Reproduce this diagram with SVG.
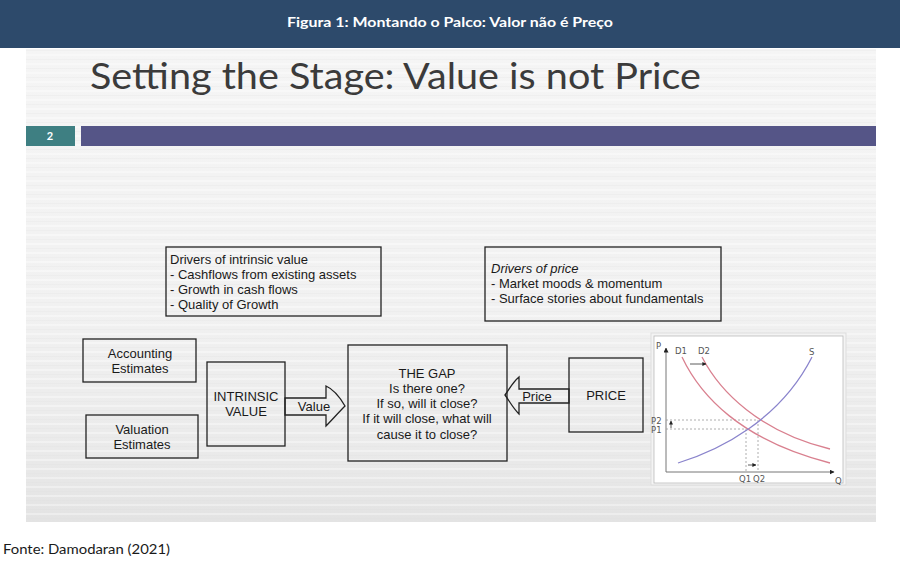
<svg xmlns="http://www.w3.org/2000/svg" width="900" height="562" viewBox="0 0 900 562">
<defs>
<linearGradient id="slidebg" x1="0" y1="0" x2="0" y2="1">
<stop offset="0" stop-color="#f5f5f5"/>
<stop offset="0.55" stop-color="#f1f1f1"/>
<stop offset="0.85" stop-color="#eaeaea"/>
<stop offset="1" stop-color="#e3e3e3"/>
</linearGradient>
<pattern id="streaks" x="0" y="0" width="900" height="9" patternUnits="userSpaceOnUse">
<rect x="0" y="0" width="900" height="2" fill="#ffffff" opacity="0.35"/>
<rect x="0" y="5" width="900" height="1" fill="#dcdcdc" opacity="0.2"/>
</pattern>
<marker id="sm" viewBox="0 0 10 10" refX="9" refY="5" markerWidth="5" markerHeight="5" orient="auto">
<path d="M0,0 L10,5 L0,10 z" fill="#222"/>
</marker>
<style>
.box{fill:none;stroke:#222;stroke-width:1.3}
.t{font-family:"Liberation Sans",Arial,sans-serif;font-size:13px;fill:#1a1a1a}
.c{text-anchor:middle}
.ch{font-family:"DejaVu Sans",sans-serif;font-size:8.5px;fill:#555}
.dash{stroke:#999;stroke-width:0.8;stroke-dasharray:2,2;fill:none}
.d{fill:none;stroke:#d9808f;stroke-width:1.3}
.s{fill:none;stroke:#8a84cc;stroke-width:1.3}
.ax{stroke:#777;stroke-width:1}
</style>
</defs>
<rect x="0" y="0" width="900" height="562" fill="#ffffff"/>
<rect x="0" y="0" width="900" height="48" fill="#2d4a6b"/>
<text x="450" y="27" text-anchor="middle" font-family="Lato,'Open Sans',sans-serif" font-weight="bold" font-size="13.5" fill="#ffffff" textLength="326" lengthAdjust="spacingAndGlyphs">Figura 1: Montando o Palco: Valor não é Preço</text>

<g id="slide">
<rect x="26" y="49" width="850" height="473" fill="url(#slidebg)"/>
<rect x="26" y="49" width="850" height="473" fill="url(#streaks)"/>
<text x="90" y="89" font-family="Lato,'Open Sans',sans-serif" font-size="37" fill="#3b3b3b" textLength="611" lengthAdjust="spacingAndGlyphs">Setting the Stage: Value is not Price</text>
<rect x="26" y="126" width="49" height="20" fill="#3e7f82"/>
<text x="50" y="140" text-anchor="middle" font-family="Lato,sans-serif" font-weight="bold" font-size="11" fill="#ffffff">2</text>
<rect x="81" y="126" width="795" height="20" fill="#555587"/>
</g>

<g id="drivers-intrinsic">
<rect class="box" x="166" y="247" width="215" height="69"/>
<text class="t" x="170" y="264">Drivers of intrinsic value</text>
<text class="t" x="170" y="279">- Cashflows from existing assets</text>
<text class="t" x="170" y="294">- Growth in cash flows</text>
<text class="t" x="170" y="309">- Quality of Growth</text>
</g>

<g id="drivers-price">
<rect class="box" x="485" y="247" width="236" height="74"/>
<text class="t" x="491" y="273" font-style="italic">Drivers of price</text>
<text class="t" x="491" y="288">- Market moods &amp; momentum</text>
<text class="t" x="491" y="303">- Surface stories about fundamentals</text>
</g>

<g id="accounting">
<rect class="box" x="83" y="339" width="113" height="43"/>
<text class="t c" x="140" y="358">Accounting</text>
<text class="t c" x="140" y="373">Estimates</text>
</g>

<g id="valuation">
<rect class="box" x="86" y="415" width="112" height="43"/>
<text class="t c" x="142" y="434">Valuation</text>
<text class="t c" x="142" y="449">Estimates</text>
</g>

<g id="intrinsic">
<rect class="box" x="207" y="362" width="78" height="84"/>
<text class="t c" x="246" y="401">INTRINSIC</text>
<text class="t c" x="246" y="416">VALUE</text>
</g>

<g id="gap">
<rect class="box" x="348" y="345" width="159" height="116"/>
<text class="t c" x="427" y="378">THE GAP</text>
<text class="t c" x="427" y="393">Is there one?</text>
<text class="t c" x="427" y="408">If so, will it close?</text>
<text class="t c" x="427" y="423">If it will close, what will</text>
<text class="t c" x="427" y="439">cause it to close?</text>
</g>

<g id="price">
<rect class="box" x="569" y="358" width="74" height="74"/>
<text class="t c" x="606" y="400">PRICE</text>
</g>

<g id="connectors">
<path class="box" fill="#f3f3f3" d="M285,398 L326,398 L326,386 C333,389 338,394 345,406 C338,413 332,420 326,426 L326,415 L285,415 Z"/>
<text class="t c" x="314" y="411">Value</text>
<path class="box" fill="#f3f3f3" d="M569,389 L519,389 L519,377 C513,382 510,388 505,395 C510,402 513,408 519,414 L519,403 L569,403 Z"/>
<text class="t c" x="537" y="401">Price</text>
</g>

<g id="chart">
<rect x="651" y="333" width="195" height="152" fill="#f4f4f4" stroke="#dddddd"/>
<rect x="654" y="336" width="189" height="147" fill="#ffffff" stroke="#bbbbbb" stroke-width="0.8"/>
<line class="ax" x1="666" y1="472" x2="666" y2="348" marker-end="url(#sm)"/>
<line class="ax" x1="666" y1="472" x2="834" y2="472" marker-end="url(#sm)"/>
<text class="ch" x="656" y="349">P</text>
<text class="ch" x="835" y="484">Q</text>
<path class="dash" d="M666,420 L758,420 M666,429 L746,429 M746,429 L746,472 M758,420 L758,472"/>
<path class="d" d="M682,357 C700,395 740,440 830,463"/>
<path class="d" d="M702,357 C720,392 760,432 830,449"/>
<path class="s" d="M678,463 C720,450 780,420 812,357"/>
<text class="ch" x="675" y="354">D1</text>
<text class="ch" x="698" y="354">D2</text>
<text class="ch" x="809" y="355">S</text>
<text class="ch" x="651" y="424">P2</text>
<text class="ch" x="651" y="433">P1</text>
<text class="ch" x="739" y="482">Q1</text>
<text class="ch" x="753" y="482">Q2</text>
<line x1="690" y1="364" x2="706" y2="364" stroke="#333" stroke-width="0.8" marker-end="url(#sm)"/>
<line x1="748" y1="465" x2="756" y2="465" stroke="#333" stroke-width="0.8" marker-end="url(#sm)"/>
<line x1="671" y1="428" x2="671" y2="421" stroke="#333" stroke-width="0.8" marker-end="url(#sm)"/>
</g>

<text x="3" y="554" font-family="Lato,'Open Sans',sans-serif" font-size="13.5" fill="#1a1a1a" textLength="167" lengthAdjust="spacingAndGlyphs">Fonte: Damodaran (2021)</text>
</svg>
